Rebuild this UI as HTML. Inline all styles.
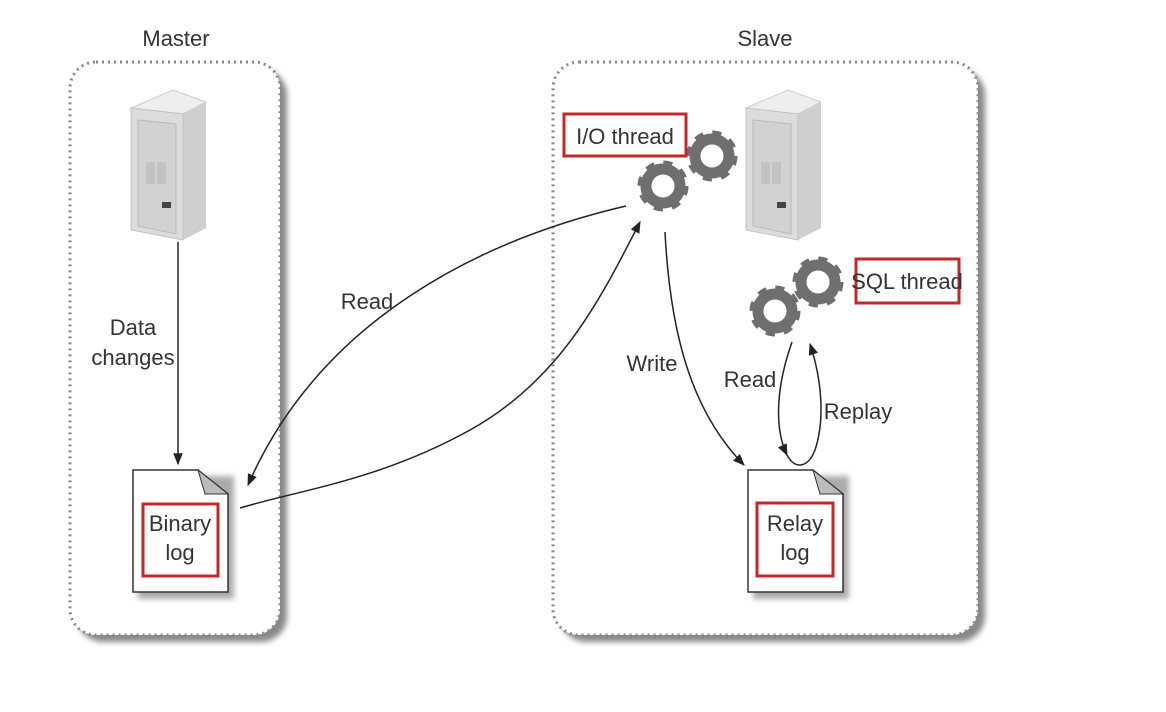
<!DOCTYPE html>
<html><head><style>
html,body{margin:0;padding:0;background:#fff;}
svg{display:block;font-family:"Liberation Sans Narrow","Liberation Sans",sans-serif;}
text{font-size:22px;fill:#333;}
</style></head><body>
<svg width="1166" height="712" viewBox="0 0 1166 712">
<defs>
<filter id="sh" x="-10%" y="-10%" width="130%" height="130%"><feGaussianBlur stdDeviation="3"/></filter>
<marker id="ah" viewBox="0 0 10 10" refX="9" refY="5" markerWidth="12" markerHeight="12" markerUnits="userSpaceOnUse" orient="auto"><path d="M0,1 L10,5 L0,9 z" fill="#222"/></marker>
<g id="gear">
<circle r="17" fill="none" stroke="#6f6f6f" stroke-width="11"/>
<circle r="22" fill="none" stroke="#6f6f6f" stroke-width="7" stroke-dasharray="8.6 8.7"/>
</g>
<g id="server">
<path d="M3,18 L45,0 L78,12 L78,138 L55,150 L3,140 z" fill="#e2e2e2"/>
<path d="M3,18 L45,0 L78,12 L55,24 z" fill="#eeeeee" stroke="#ccc"/>
<path d="M55,24 L78,12 L78,138 L55,150 z" fill="#cfcfcf"/>
<path d="M3,18 L55,24 L55,150 L3,140 z" fill="#dcdcdc" stroke="#c2c2c2"/>
<path d="M10,30 L48,34 L48,144 L10,136 z" fill="#d2d2d2" stroke="#b8b8b8"/>
<rect x="18" y="72" width="9" height="22" fill="#c2c2c2"/><rect x="29" y="72" width="9" height="22" fill="#c2c2c2"/>
<rect x="34" y="112" width="9" height="6" fill="#444"/>
</g>
</defs>
<!-- containers -->
<rect x="77" y="69" width="210" height="573" rx="26" fill="#888" filter="url(#sh)"/>
<rect x="70" y="62" width="210" height="573" rx="26" fill="#fff" stroke="#888" stroke-width="3" stroke-dasharray="2 4"/>
<rect x="560" y="69" width="425" height="573" rx="26" fill="#888" filter="url(#sh)"/>
<rect x="553" y="62" width="425" height="573" rx="26" fill="#fff" stroke="#888" stroke-width="3" stroke-dasharray="2 4"/>
<text x="176" y="46" text-anchor="middle" font-size="24">Master</text>
<text x="765" y="46" text-anchor="middle" font-size="24">Slave</text>
<!-- servers -->
<use href="#server" x="128" y="90"/>
<use href="#server" x="743" y="90"/>
<!-- gears -->
<use href="#gear" x="712" y="156"/>
<use href="#gear" x="663" y="186"/>
<use href="#gear" x="818" y="282"/>
<use href="#gear" x="775" y="311"/>
<!-- labels boxes -->
<rect x="564" y="114" width="122" height="42" fill="#fff" stroke="#c62828" stroke-width="3"/>
<text x="625" y="144" text-anchor="middle">I/O thread</text>
<rect x="856" y="259" width="103" height="44" fill="#fff" stroke="#c62828" stroke-width="3"/>
<text x="907" y="289" text-anchor="middle">SQL thread</text>
<!-- docs -->
<g>
<rect x="138" y="476" width="96" height="123" fill="#aaa" filter="url(#sh)"/>
<path d="M133,470 L198,470 L228,494 L228,592 L133,592 z" fill="#fff" stroke="#333" stroke-width="1.5"/>
<path d="M198,470 L228,494 L205,494 z" fill="#bbb" stroke="#333" stroke-width="1"/>
<rect x="143" y="504" width="75" height="72" fill="none" stroke="#c62828" stroke-width="3"/>
<text x="180" y="531" text-anchor="middle">Binary</text><text x="180" y="560" text-anchor="middle">log</text>
</g>
<g>
<rect x="753" y="476" width="96" height="123" fill="#aaa" filter="url(#sh)"/>
<path d="M748,470 L813,470 L843,494 L843,592 L748,592 z" fill="#fff" stroke="#333" stroke-width="1.5"/>
<path d="M813,470 L843,494 L820,494 z" fill="#bbb" stroke="#333" stroke-width="1"/>
<rect x="757" y="503" width="76" height="73" fill="none" stroke="#c62828" stroke-width="3"/>
<text x="795" y="531" text-anchor="middle">Relay</text><text x="795" y="560" text-anchor="middle">log</text>
</g>
<!-- arrows -->
<g fill="none" stroke="#222" stroke-width="1.5">
<path d="M178,242 L178,464" marker-end="url(#ah)"/>
<path d="M626,206 C480,240 320,320 248,485" marker-end="url(#ah)"/>
<path d="M240,508 C300,490 380,480 470,430 C560,380 600,300 640,222" marker-end="url(#ah)"/>
<path d="M665,232 C670,330 690,410 744,465" marker-end="url(#ah)"/>
<path d="M792,342 C775,390 775,430 787,455" marker-end="url(#ah)"/>
<path d="M787,455 C795,470 808,468 815,450 C825,420 822,380 810,344" marker-end="url(#ah)"/>
</g>
<text x="367" y="309" text-anchor="middle">Read</text>
<text x="133" y="335" text-anchor="middle">Data</text>
<text x="133" y="365" text-anchor="middle">changes</text>
<text x="652" y="371" text-anchor="middle">Write</text>
<text x="750" y="387" text-anchor="middle">Read</text>
<text x="858" y="419" text-anchor="middle">Replay</text>
</svg>
</body></html>
